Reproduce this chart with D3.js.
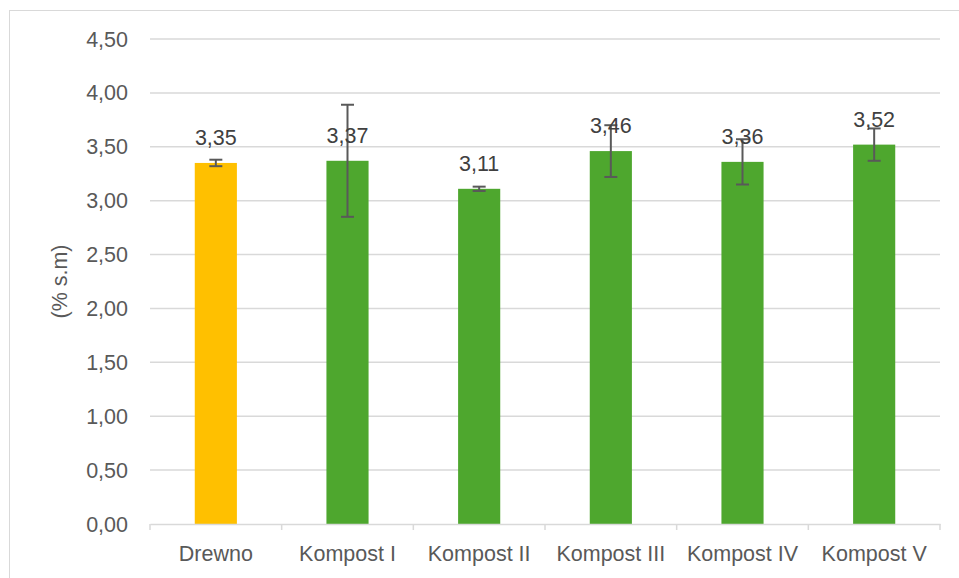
<!DOCTYPE html>
<html><head><meta charset="utf-8">
<script src="https://cdn.jsdelivr.net/npm/d3@7"></script>
<style>html,body{margin:0;padding:0;background:#fff;}svg{display:block;}</style>
</head><body>
<svg id="chart" width="959" height="578"></svg>
<script>
const categories = ["Drewno", "Kompost I", "Kompost II", "Kompost III", "Kompost IV", "Kompost V"];
const values = [3.35, 3.37, 3.11, 3.46, 3.36, 3.52];
const errors = [0.03, 0.52, 0.02, 0.24, 0.21, 0.15];
const barColors = ["#FFC000", "#4EA72E", "#4EA72E", "#4EA72E", "#4EA72E", "#4EA72E"];
const yTicks = [0, 0.5, 1, 1.5, 2, 2.5, 3, 3.5, 4, 4.5];
const yTitle = "(% s.m)";

const svg = d3.select("#chart");
const W = 959, H = 578;
const m = {left: 150, right: 19, top: 39, bottom: 54};
const font = "'Liberation Sans', Arial, sans-serif";
const fs = 21.5;
const fmt = v => d3.format(".2f")(v).replace(".", ",");

svg.append("rect").attr("x", 9.5).attr("y", 10.5).attr("width", 960).attr("height", 580)
  .attr("fill", "#fff").attr("stroke", "#d9d9d9").attr("stroke-width", 1);

const x = d3.scaleBand().domain(categories).range([m.left, W - m.right]).paddingInner(0.68).paddingOuter(0.34);
const xb = d3.scaleBand().domain(categories).range([m.left, W - m.right]);
const y = d3.scaleLinear().domain([0, 4.5]).range([H - m.bottom, m.top]);

// gridlines
svg.append("g").selectAll("line").data(yTicks.filter(d => d > 0)).join("line")
  .attr("x1", m.left).attr("x2", W - m.right)
  .attr("y1", d => y(d)).attr("y2", d => y(d))
  .attr("stroke", "#d9d9d9").attr("stroke-width", 1.5);

// y tick labels
svg.append("g").selectAll("text").data(yTicks).join("text")
  .attr("x", 128).attr("y", d => y(d)).attr("dy", "0.35em")
  .attr("text-anchor", "end").attr("font-family", font).attr("font-size", fs)
  .attr("fill", "#595959").text(d => fmt(d));

// bars
svg.append("g").selectAll("rect").data(categories).join("rect")
  .attr("x", d => x(d)).attr("width", x.bandwidth())
  .attr("y", (d, i) => y(values[i])).attr("height", (d, i) => y(0) - y(values[i]))
  .attr("fill", (d, i) => barColors[i]);

// x axis
const xAxis = d3.axisBottom(xb).tickSize(0).tickFormat(() => "");
const gx = svg.append("g").attr("transform", `translate(0,${y(0)})`).call(xAxis);
gx.select(".domain").attr("stroke", "#d9d9d9").attr("stroke-width", 1.5);
const bounds = [m.left].concat(categories.map(c => xb(c) + xb.bandwidth()));
svg.append("g").selectAll("line").data(bounds).join("line")
  .attr("x1", d => d).attr("x2", d => d).attr("y1", y(0)).attr("y2", y(0) + 6)
  .attr("stroke", "#d9d9d9").attr("stroke-width", 1.5);
svg.append("g").selectAll("text").data(categories).join("text")
  .attr("x", d => xb(d) + xb.bandwidth() / 2).attr("y", 561)
  .attr("text-anchor", "middle").attr("font-family", font).attr("font-size", fs)
  .attr("fill", "#595959").text(d => d);

// error bars
const eg = svg.append("g").attr("stroke", "#595959").attr("stroke-width", 2);
categories.forEach((c, i) => {
  const cx = x(c) + x.bandwidth() / 2;
  const top = y(values[i] + errors[i]), bot = y(values[i] - errors[i]);
  eg.append("line").attr("x1", cx).attr("x2", cx).attr("y1", top).attr("y2", bot);
  eg.append("line").attr("x1", cx - 6.5).attr("x2", cx + 6.5).attr("y1", top).attr("y2", top);
  eg.append("line").attr("x1", cx - 6.5).attr("x2", cx + 6.5).attr("y1", bot).attr("y2", bot);
});

// data labels
svg.append("g").selectAll("text").data(categories).join("text")
  .attr("x", d => x(d) + x.bandwidth() / 2).attr("y", (d, i) => y(values[i]) - 18)
  .attr("text-anchor", "middle").attr("font-family", font).attr("font-size", fs)
  .attr("fill", "#404040").text((d, i) => fmt(values[i]));

// y title
svg.append("text").attr("transform", `translate(67,${(y(0) + y(4.5)) / 2}) rotate(-90)`)
  .attr("text-anchor", "middle").attr("font-family", font).attr("font-size", fs)
  .attr("fill", "#595959").text(yTitle);
</script>
</body></html>
